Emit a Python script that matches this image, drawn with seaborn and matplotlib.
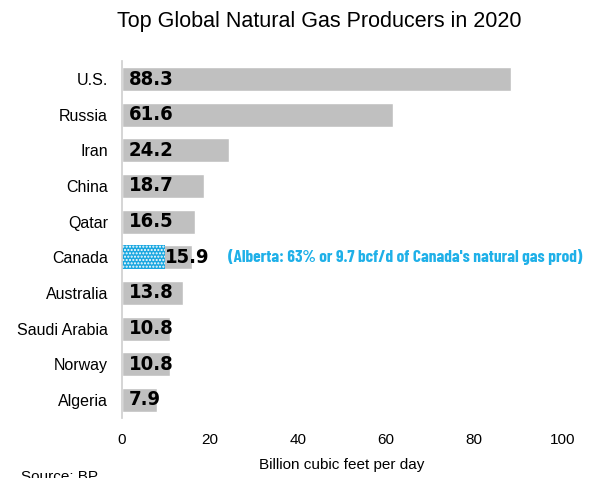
import seaborn as sns
import matplotlib.pyplot as plt
import pandas as pd

# production in billion cubic feet per day, 2020
countries = ['U.S.', 'Russia', 'Iran', 'China', 'Qatar', 'Canada',
             'Australia', 'Saudi Arabia', 'Norway', 'Algeria']
production = [88.3, 61.6, 24.2, 18.7, 16.5, 15.9, 13.8, 10.8, 10.8, 7.9]
alberta_country = ['Canada']
alberta_value = [9.7]
xticks = [0, 20, 40, 60, 80, 100]

sns.set_theme(style='white')
plt.rcParams['font.family'] = ['Liberation Sans', 'DejaVu Sans']
plt.rcParams['text.color'] = 'black'
plt.rcParams['xtick.color'] = 'black'
plt.rcParams['ytick.color'] = 'black'
plt.rcParams['axes.labelcolor'] = 'black'
narrow = ['DejaVu Sans']
extra_narrow = ['Barlow Condensed', 'DejaVu Sans']

df = pd.DataFrame({'country': countries, 'bcfd': production})
ab = pd.DataFrame({'country': alberta_country, 'bcfd': alberta_value})

fig = plt.figure(figsize=(5.95, 4.78), dpi=100)
ax = fig.add_axes([0.205, 0.126, 0.74, 0.746])

sns.barplot(data=df, x='bcfd', y='country', order=countries, orient='h',
            color='#c0c0c0', saturation=1, width=0.68, ax=ax)
sns.barplot(data=ab, x='bcfd', y='country', order=countries, orient='h',
            color='#1aa7e0', saturation=1, width=0.68, ax=ax,
            hatch='.....', edgecolor='white', linewidth=0)

# value labels, inside the bar on the left (after blue part for Canada)
for i, (c, v) in enumerate(zip(countries, production)):
    xpos = alberta_value[0] + 0.1 if c in alberta_country else 1.6
    ax.text(xpos, i, f'{v:.1f}', va='center', ha='left', family=narrow,
            fontstretch='condensed', fontsize=14.5, fontweight='bold')

ax.text(24.0, countries.index('Canada'),
        "(Alberta: 63% or 9.7 bcf/d of Canada's natural gas prod)",
        va='center', ha='left', family=extra_narrow, fontstretch='condensed',
        fontsize=12.5, fontweight='bold', color='#1fb0e8')

ax.set_xlim(0, 100)
ax.set_xticks(xticks)
ax.tick_params(axis='x', length=0, pad=11, labelsize=11)
ax.tick_params(axis='y', length=0, pad=10, labelsize=11.5)
ax.set_ylabel('')
ax.set_xlabel('Billion cubic feet per day', fontsize=11, labelpad=8)
sns.despine(ax=ax, top=True, right=True, bottom=True)
ax.spines['left'].set_color('#d0d0d0')

fig.text(0.537, 0.955, 'Top Global Natural Gas Producers in 2020',
         ha='center', va='center', fontsize=15.5)
fig.text(0.035, -0.012, 'Source: BP', ha='left', va='bottom', fontsize=11)

fig.savefig('out.png', dpi=100)
